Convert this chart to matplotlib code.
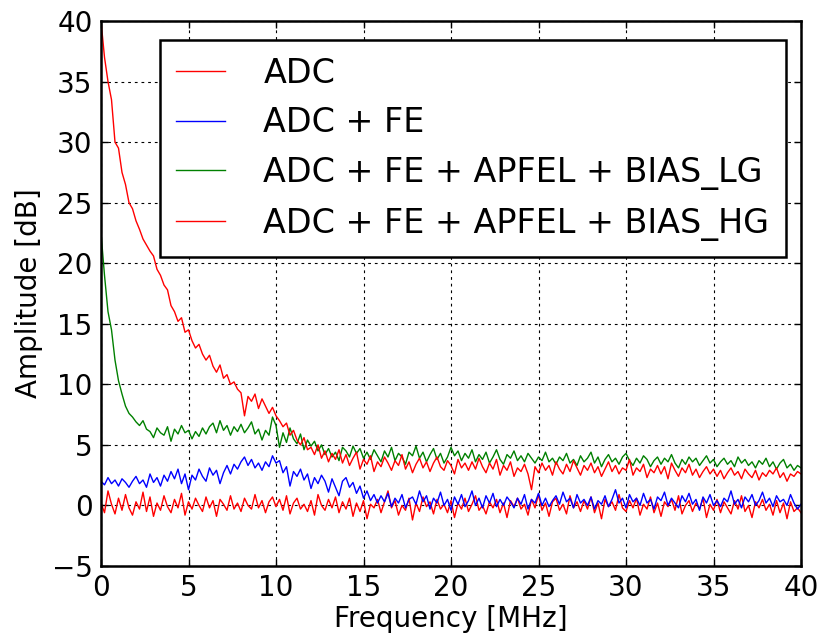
import numpy as np
import matplotlib
matplotlib.use('Agg')
import matplotlib.pyplot as plt

# ---------------------------------------------------------------------------
# Data (0.2 MHz steps)
# ---------------------------------------------------------------------------
freq_mhz = np.linspace(0, 40, 201)

adc = [
    0.2, -0.6, 1.2, 0.1, -0.7, 0.6, -0.4, 0.9, -0.2, -0.8,
    0.3, -0.3, 1.1, -0.5, 0.7, -0.9, 0.2, -0.4, 0.8, -0.1,
    -0.6, 0.5, -0.2, 1.0, -0.8, 0.3, -0.3, 0.6, 0.0, -0.5,
    0.7, -0.2, 0.4, -0.9, 0.5, 0.1, -0.4, 0.8, -0.3, 0.2,
    -0.5, 0.6, 0.0, -0.3, 0.9, -0.2, 0.4, -0.6, 0.3, 0.7,
    -0.1, 0.5, -0.4, 0.8, -0.7, 0.2, 0.6, -0.3, 0.1, -0.5,
    0.4, -0.8, 0.9, 0.0, -0.4, 0.5, -0.2, 0.7, -0.6, 0.3,
    -0.3, 0.6, -0.9, 0.2, -0.5, 0.4, -1.1, 0.1, -0.2, 0.5,
    -0.6, 0.3, 1.2, -0.2, 0.4, -0.8, 0.0, -0.4, 0.6, -1.2,
    0.2, -0.5, 0.7, -0.1, 0.3, -0.7, 0.5, -0.3, 0.1, -0.6,
    0.4, -1.0, 0.2, -0.3, 0.6, -0.5, 0.1, 0.8, -0.4, 0.0,
    -0.7, 0.3, -0.2, 0.5, -0.6, 0.2, -1.0, 0.4, -0.1, 0.6,
    -0.3, 0.1, -0.8, 0.5, -0.2, 0.9, -0.4, 0.2, -0.9, 0.3,
    0.6, -0.4, 0.1, -0.7, 0.8, -0.2, 0.3, -0.5, 0.4, -0.3,
    0.7, -0.6, 0.2, -1.1, 0.5, -0.1, 0.3, -0.4, 0.9, -0.2,
    -0.5, 0.4, -0.2, 0.6, -0.8, 0.1, -0.3, 0.7, -0.6, 0.2,
    -0.9, 0.3, -0.1, 0.5, -0.4, 0.8, -0.7, 0.0, 0.4, -0.5,
    0.2, -0.3, 0.6, -1.0, 0.1, -0.4, 0.5, -0.6, 0.3, -0.2,
    -0.7, 0.4, -0.3, 0.8, -0.5, 0.0, -1.0, 0.3, -0.2, 0.5,
    -0.4, 0.1, -0.8, 0.4, -0.6, 0.2, -1.1, 0.3, -0.5, -0.2,
    -0.6,
]

adc_fe = [
    2.0, 1.7, 2.3, 1.8, 2.1, 1.6, 2.2, 1.9, 1.5, 2.0,
    2.4, 1.8, 2.1, 1.5, 2.6, 1.9, 2.3, 1.6, 2.5, 2.0,
    2.8, 2.2, 3.0, 1.8, 2.6, 1.3, 2.5, 2.1, 3.0, 2.4,
    2.0, 3.1, 2.5, 2.9, 1.8, 2.7, 3.3, 2.6, 3.4, 3.0,
    3.6, 4.0, 3.3, 3.8, 3.1, 3.5, 2.9, 3.6, 3.2, 4.1,
    3.5, 3.7, 2.7, 3.2, 1.6, 2.8, 2.4, 3.0, 2.1, 2.6,
    1.4, 2.3, 1.8, 2.5, 2.0, 1.1, 2.2, 1.5, 0.8, 2.0,
    2.3, 1.5, 1.9, 1.0, 1.6, 0.6, 1.2, 0.4, 0.9, 0.2,
    0.8, 0.3, 1.0, -0.1, 0.6, 0.2, 0.9, -0.2, 0.5, 0.7,
    0.1, 1.2, 0.3, 0.8, -0.3, 0.6, 0.2, 1.1, 0.0, 0.5,
    -0.4, 0.7, 0.1, 0.9, -0.1, 0.4, 1.2, 0.0, 0.6, -0.2,
    0.8, 0.2, 1.0, -0.1, 0.5, 0.0, 0.7, 0.3, -0.2, 0.6,
    0.1, 0.9, -0.3, 0.5, 0.2, 1.0, 0.0, 0.6, -0.1, 0.4,
    0.8, 0.1, 1.1, 0.3, 0.6, -0.2, 0.9, 0.2, 0.5, 0.0,
    0.7, -0.3, 0.4, 0.1, 0.8, -0.1, 0.5, 1.3, 0.2, 0.6,
    -0.2, 0.9, 0.3, 0.6, 0.0, 1.0, 0.2, 0.5, -0.3, 0.7,
    0.4, 1.1, 0.0, 0.6, 0.2, -0.2, 0.8, 0.3, 1.0, 0.1,
    0.5, -0.4, 0.7, 0.2, 0.9, 0.0, 0.4, -0.1, 0.6, 0.3,
    1.2, 0.1, 0.5, -0.2, 0.7, 0.3, 0.9, 0.0, 0.4, 1.1,
    0.2, 0.6, -0.1, 0.8, 0.3, 0.5, 0.0, 0.9, 0.2, -0.3,
    0.1,
]

apfel_lg = [
    22.5, 19.0, 16.0, 14.5, 12.0, 10.3, 9.2, 8.2, 7.6, 7.3,
    6.9, 6.6, 7.0, 6.3, 6.1, 5.6, 6.4, 6.0, 5.8, 6.5,
    5.3, 6.3, 5.9, 6.6, 6.0, 6.2, 5.5, 6.1, 5.7, 6.4,
    5.9, 6.5, 6.8, 6.0, 7.0, 6.2, 6.6, 5.8, 6.5, 6.1,
    6.7, 6.0, 6.4, 6.9, 5.9, 6.3, 5.4, 6.2, 5.8, 7.3,
    6.6, 4.8, 6.0, 5.2, 6.4, 5.5, 5.1, 5.9, 4.6, 5.4,
    4.9, 5.3, 4.5, 5.0, 4.2, 4.7, 4.0, 4.4, 3.7, 4.8,
    4.5, 4.0, 4.9, 4.3, 4.7, 3.9, 4.4, 3.8, 4.6, 4.1,
    3.6, 4.5, 4.0, 4.8, 3.7, 4.3, 4.0, 3.4, 4.4, 4.1,
    4.9, 3.9, 4.4, 3.6, 4.2, 4.7, 3.8, 4.3, 3.5, 4.0,
    4.8, 4.1, 4.5, 3.7, 4.3, 3.9, 4.6, 3.6, 4.2, 3.8,
    4.4, 3.5, 4.0, 4.6, 3.8, 3.4, 4.2, 3.9, 4.5, 3.7,
    4.1, 3.6, 4.3, 3.9, 3.5, 4.0, 3.7, 4.4, 3.6, 3.9,
    3.4, 4.0, 3.7, 4.3, 3.5, 3.8, 3.3, 4.1, 3.6, 3.9,
    4.4, 3.5, 4.0, 3.2, 3.8, 4.2, 3.6, 3.9, 3.4, 4.0,
    4.3, 3.7, 3.3, 3.9, 3.5, 4.1, 3.8, 3.2, 3.7, 4.0,
    3.4, 3.9, 3.6, 4.2, 3.5, 3.1, 3.8, 3.4, 4.0, 3.6,
    3.9, 3.3, 3.7, 4.1, 3.5, 3.8, 3.2, 3.6, 3.9, 3.4,
    3.7, 3.2, 4.0, 3.5, 3.8, 3.3, 3.6, 3.1, 3.7, 3.4,
    3.9, 3.2, 3.6, 3.0, 3.5, 3.8, 3.1, 3.4, 2.9, 3.3,
    3.1,
]

apfel_hg = [
    40.0, 37.0, 35.0, 33.5, 30.0, 29.5, 27.5, 26.5, 25.0, 24.5,
    23.5, 22.8, 22.0, 21.5, 21.0, 20.6, 19.5, 19.0, 18.2, 17.8,
    16.5, 16.0, 15.2, 15.5, 14.3, 14.5, 13.6, 13.0, 13.3, 12.5,
    12.0, 12.4, 11.5, 11.0, 11.6, 10.5, 10.8, 10.0, 10.2, 9.6,
    9.3, 7.4, 9.0, 8.6, 9.2, 8.0, 8.8, 8.2, 7.6, 8.1,
    7.4, 7.0, 6.5, 6.8, 5.8, 6.2, 5.4, 5.0, 5.6, 4.6,
    4.8, 4.2, 5.0, 3.9, 4.5, 3.6, 4.3, 3.8, 4.6, 3.5,
    4.2, 3.3, 3.9, 4.4, 3.0, 3.8, 3.4, 4.1, 2.8, 3.6,
    3.2, 4.0, 3.5, 2.9, 3.7, 3.3, 4.2, 3.0, 3.6, 2.7,
    3.4, 3.9, 3.1, 3.6, 2.8, 3.5, 4.0, 3.2, 2.9, 3.7,
    3.3, 2.6, 3.8, 3.1, 3.5, 2.9, 3.6, 3.0, 3.9, 3.2,
    2.7, 3.5, 3.0, 3.8, 2.5, 3.3, 2.9, 3.6, 2.4, 3.1,
    2.8, 3.4, 2.6, 1.3, 3.2, 2.7, 3.5, 2.9, 3.3, 2.5,
    3.6, 3.0, 2.6, 3.4, 2.8, 3.7, 3.1, 2.5, 3.3, 2.9,
    3.5, 2.7, 3.2, 2.4, 3.0, 3.6, 2.8, 3.3, 2.6, 3.1,
    2.9, 3.8, 2.5, 3.1, 2.8, 3.4, 2.3, 3.0, 2.7, 3.3,
    2.6, 3.2, 2.2, 3.5, 2.9, 2.4, 3.1, 2.7, 3.4, 2.5,
    3.0, 2.3, 2.8, 3.2, 2.6, 3.0, 2.4, 2.9, 2.2, 2.7,
    3.1, 2.5, 2.8, 2.2, 3.0, 2.6, 2.3, 2.9, 2.1, 2.7,
    2.4, 2.9, 2.6, 3.1, 2.3, 2.7, 2.0, 2.6, 2.4, 2.8,
    2.6,
]

labels = ['ADC', 'ADC + FE', 'ADC + FE + APFEL + BIAS_LG',
          'ADC + FE + APFEL + BIAS_HG']
colors = ['#ff0000', '#0000ff', '#008000', '#ff0000']

# ---------------------------------------------------------------------------
# Plot
# ---------------------------------------------------------------------------
plt.rcParams['font.family'] = ['DejaVu Sans']

fig = plt.figure(figsize=(8.22, 6.33), dpi=100)
ax = fig.add_axes([101 / 822, 67 / 633, 700 / 822, 545 / 633])

for series, label, color in zip([adc, adc_fe, apfel_lg, apfel_hg], labels, colors):
    ax.plot(freq_mhz, series, color=color, linewidth=1.0, label=label)

ax.set_xlim(0, 40)
ax.set_ylim(-5, 40)
ax.set_xticks(np.arange(0, 41, 5))
ax.set_yticks(np.arange(-5, 41, 5))
ax.tick_params(direction='in', length=5, width=1, top=True, right=True,
               labelsize=20, pad=6)
ax.grid(True, color='black', linestyle=(0, (2.5, 3.5)), linewidth=0.8)
for spine in ax.spines.values():
    spine.set_linewidth(1.8)

ax.set_xlabel('Frequency [MHz]', fontsize=20, labelpad=2)
ax.set_ylabel('Amplitude [dB]', fontsize=20, labelpad=6)

leg = ax.legend(loc='upper right', bbox_to_anchor=(0.9786, 0.9651),
                borderaxespad=0, fontsize=24, handlelength=1.47,
                handletextpad=1.14, labelspacing=0.5, borderpad=0.5,
                fancybox=False, framealpha=1)
leg.get_frame().set_edgecolor('black')
leg.get_frame().set_linewidth(1.8)

fig.savefig('out.png', dpi=100)
